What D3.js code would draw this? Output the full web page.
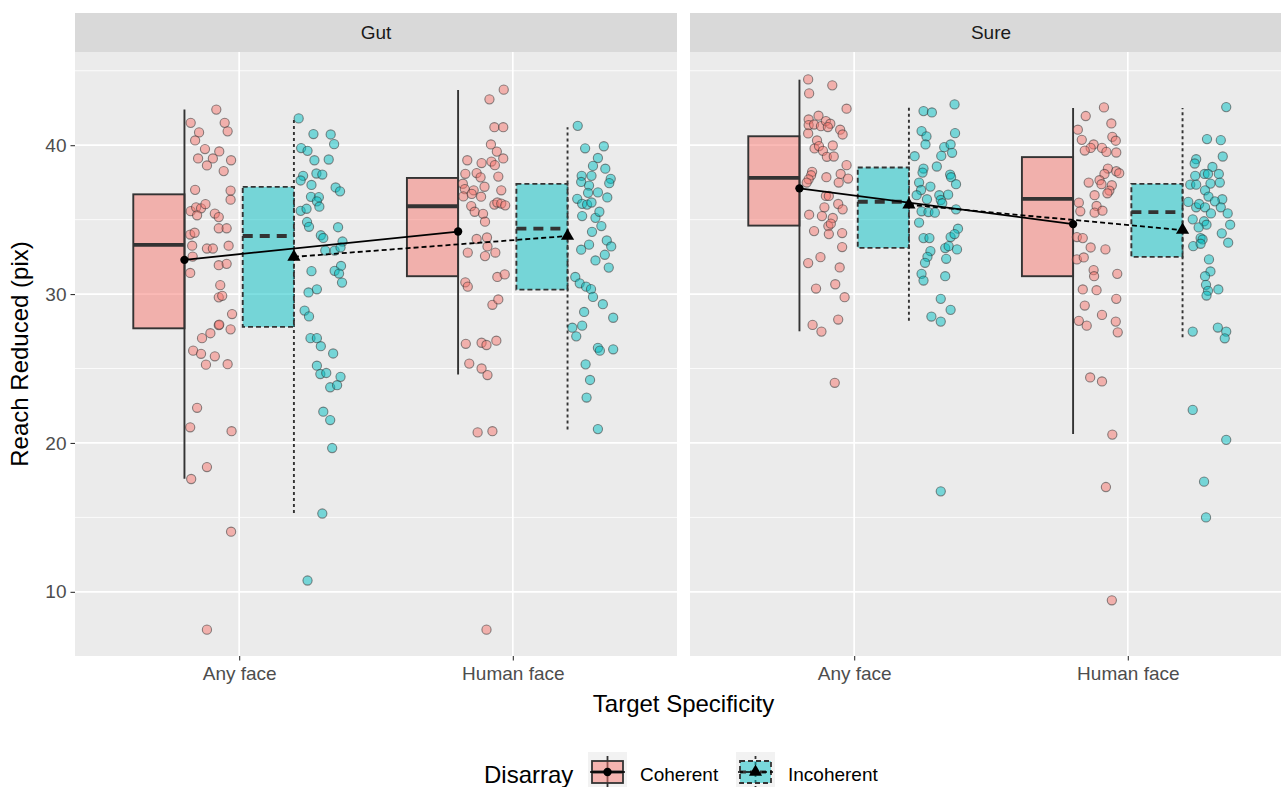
<!DOCTYPE html>
<html>
<head>
<meta charset="utf-8">
<script src="https://cdn.jsdelivr.net/npm/d3@7"></script>
<style>
  body { margin: 0; background: #fff; }
  svg { display: block; font-family: "Liberation Sans", Arial, sans-serif; }
</style>
</head>
<body>
<div id="root"></div>
<script>
// facets, x categories and fill groups
const panels = ['Gut', 'Sure'];
const categories = ['Any face', 'Human face'];
const groups = ['Coherent', 'Incoherent'];
const yTicks = [10, 20, 30, 40];
const yMinorTicks = [15, 25, 35, 45];

// box stats: panel, category, group, whisker low, q1, median, q3, whisker high, mean
const boxes = [
  ['Gut', 'Any face', 'Coherent', 17.6, 27.7, 33.3, 36.7, 42.4, 32.3],
  ['Gut', 'Any face', 'Incoherent', 15.3, 27.8, 33.9, 37.2, 41.8, 32.5],
  ['Gut', 'Human face', 'Coherent', 24.6, 31.2, 35.9, 37.8, 43.7, 34.2],
  ['Gut', 'Human face', 'Incoherent', 20.9, 30.3, 34.4, 37.4, 41.2, 33.9],
  ['Sure', 'Any face', 'Coherent', 27.5, 34.6, 37.8, 40.6, 44.4, 37.1],
  ['Sure', 'Any face', 'Incoherent', 28.2, 33.1, 36.2, 38.5, 42.7, 36.0],
  ['Sure', 'Human face', 'Coherent', 20.6, 31.2, 36.4, 39.2, 42.5, 34.7],
  ['Sure', 'Human face', 'Incoherent', 27.1, 32.5, 35.5, 37.4, 42.5, 34.3],
];

// raw observations: [jitter (0..1 across the point strip), value]
const gutAnyCoh = [
  [0.58, 42.39], [0.06, 41.5], [0.75, 41.5], [0.23, 40.86], [0.81, 40.93], [0.15, 40.32],
  [0.35, 39.74], [0.64, 39.58], [0.21, 39.11], [0.51, 39.11], [0.39, 38.64], [0.88, 38.99],
  [0.73, 38.26], [0.15, 37.0], [0.87, 36.95], [0.87, 36.34], [0.06, 35.57], [0.17, 35.83],
  [0.27, 35.76], [0.36, 36.04], [0.19, 35.29], [0.55, 35.41], [0.63, 35.17], [0.05, 34.0],
  [0.14, 34.12], [0.63, 34.42], [0.79, 34.42], [0.09, 33.25], [0.39, 33.06], [0.51, 33.06],
  [0.83, 33.25], [0.1, 32.52], [0.05, 31.42], [0.63, 31.94], [0.79, 32.03], [0.66, 30.6],
  [0.63, 29.78], [0.7, 29.88], [0.9, 28.66], [0.63, 27.91], [0.64, 27.95], [0.87, 27.63],
  [0.46, 27.37], [0.29, 27.04], [0.11, 26.2], [0.27, 25.99], [0.55, 25.82], [0.37, 25.26],
  [0.81, 25.29], [0.19, 22.36], [0.05, 21.05], [0.89, 20.79], [0.39, 18.38], [0.07, 17.58],
  [0.88, 14.04], [0.39, 7.46],
];
const gutAnyInc = [
  [0.03, 41.8], [0.33, 40.75], [0.68, 40.72], [0.75, 40.07], [0.08, 39.81], [0.21, 39.62],
  [0.35, 38.99], [0.64, 39.04], [0.39, 38.1], [0.51, 38.03], [0.12, 37.94], [0.07, 37.63],
  [0.29, 37.33], [0.78, 37.16], [0.87, 36.9], [0.28, 36.53], [0.44, 36.51], [0.4, 36.23],
  [0.45, 35.87], [0.07, 35.59], [0.19, 35.73], [0.2, 34.84], [0.24, 34.52], [0.83, 34.49],
  [0.48, 33.95], [0.53, 33.77], [0.92, 33.53], [0.57, 32.92], [0.76, 32.92], [0.88, 33.13],
  [0.89, 31.89], [0.76, 31.56], [0.85, 31.38], [0.29, 31.54], [0.91, 30.77], [0.4, 30.32],
  [0.23, 30.11], [0.15, 28.89], [0.24, 28.5], [0.27, 27.04], [0.4, 27.04], [0.48, 26.5],
  [0.73, 26.01], [0.4, 25.19], [0.47, 24.63], [0.59, 24.7], [0.88, 24.44], [0.67, 23.74],
  [0.81, 23.88], [0.53, 22.1], [0.67, 21.54], [0.71, 19.66], [0.51, 15.26], [0.21, 10.76],
];
const gutHumCoh = [
  [0.86, 43.73], [0.57, 43.08], [0.67, 41.21], [0.85, 41.21], [0.6, 40.05], [0.72, 39.57],
  [0.85, 39.11], [0.12, 38.99], [0.41, 38.8], [0.61, 38.9], [0.68, 38.66], [0.08, 38.08],
  [0.31, 38.13], [0.39, 37.84], [0.75, 37.89], [0.03, 37.41], [0.07, 37.05], [0.25, 36.97],
  [0.47, 37.21], [0.81, 36.97], [0.04, 36.56], [0.21, 36.73], [0.4, 36.54], [0.67, 36.01],
  [0.73, 36.15], [0.81, 36.08], [0.89, 35.96], [0.2, 35.91], [0.27, 35.53], [0.44, 35.39],
  [0.48, 34.86], [0.31, 33.7], [0.52, 33.8], [0.53, 33.2], [0.13, 32.79], [0.48, 32.55],
  [0.69, 32.79], [0.08, 30.79], [0.13, 30.5], [0.73, 31.15], [0.88, 31.32], [0.63, 29.28],
  [0.75, 29.64], [0.09, 26.66], [0.41, 26.73], [0.51, 26.58], [0.71, 26.87], [0.16, 25.33],
  [0.41, 25.0], [0.53, 24.56], [0.33, 20.71], [0.63, 20.79], [0.51, 7.46],
];
const gutHumInc = [
  [0.14, 41.3], [0.29, 39.79], [0.67, 39.93], [0.55, 39.14], [0.45, 38.61], [0.7, 38.42],
  [0.22, 37.94], [0.42, 37.94], [0.81, 37.74], [0.21, 37.53], [0.37, 37.29], [0.78, 37.45],
  [0.35, 36.8], [0.55, 36.83], [0.74, 36.49], [0.13, 36.4], [0.23, 36.06], [0.33, 36.01],
  [0.42, 36.15], [0.23, 35.24], [0.5, 35.12], [0.58, 35.53], [0.62, 34.57], [0.43, 34.18],
  [0.73, 33.6], [0.82, 33.2], [0.37, 33.32], [0.21, 32.98], [0.69, 32.64], [0.5, 32.26],
  [0.77, 31.78], [0.09, 31.15], [0.18, 30.72], [0.31, 30.5], [0.41, 30.33], [0.45, 29.81],
  [0.65, 29.32], [0.86, 28.41], [0.27, 28.8], [0.23, 27.88], [0.03, 27.74], [0.11, 27.16],
  [0.55, 26.39], [0.59, 26.2], [0.86, 26.29], [0.3, 25.28], [0.39, 24.23], [0.32, 23.05],
  [0.55, 20.93],
];
const sureAnyCoh = [
  [0.11, 44.42], [0.13, 43.48], [0.6, 44.02], [0.89, 42.45], [0.12, 41.73], [0.12, 41.35],
  [0.23, 41.39], [0.32, 41.98], [0.37, 41.28], [0.47, 41.62], [0.56, 41.44], [0.51, 41.22],
  [0.76, 41.04], [0.81, 40.72], [0.11, 40.79], [0.29, 40.32], [0.24, 39.78], [0.33, 39.94],
  [0.41, 39.62], [0.49, 39.22], [0.63, 39.24], [0.61, 39.98], [0.89, 38.66], [0.19, 38.21],
  [0.17, 37.98], [0.12, 37.71], [0.08, 37.49], [0.48, 37.85], [0.77, 38.07], [0.92, 37.76],
  [0.73, 37.49], [0.47, 36.59], [0.53, 36.59], [0.72, 36.05], [0.81, 35.69], [0.44, 35.83],
  [0.13, 35.33], [0.39, 35.24], [0.61, 35.11], [0.52, 34.57], [0.57, 34.73], [0.23, 34.23],
  [0.53, 34.03], [0.8, 34.1], [0.8, 33.16], [0.36, 32.48], [0.11, 32.08], [0.75, 31.79],
  [0.66, 30.66], [0.27, 30.37], [0.85, 29.79], [0.72, 28.29], [0.2, 27.93], [0.38, 27.48],
  [0.65, 24.04],
];
const sureAnyInc = [
  [0.23, 42.29], [0.4, 42.2], [0.86, 42.74], [0.19, 40.95], [0.29, 40.59], [0.27, 40.05],
  [0.87, 40.81], [0.65, 39.87], [0.78, 40.05], [0.81, 39.49], [0.59, 39.28], [0.05, 39.26],
  [0.5, 38.57], [0.23, 38.43], [0.21, 38.16], [0.77, 38.03], [0.79, 37.85], [0.14, 37.49],
  [0.37, 37.22], [0.89, 37.38], [0.18, 36.99], [0.09, 36.64], [0.3, 36.37], [0.55, 36.64],
  [0.73, 36.68], [0.58, 36.32], [0.61, 36.1], [0.19, 35.56], [0.33, 35.51], [0.46, 35.47],
  [0.89, 35.69], [0.14, 34.8], [0.23, 33.76], [0.35, 33.76], [0.93, 34.39], [0.78, 33.83],
  [0.86, 34.03], [0.67, 33.09], [0.74, 33.22], [0.91, 33.0], [0.37, 32.89], [0.31, 32.5],
  [0.26, 32.1], [0.69, 32.37], [0.19, 31.36], [0.23, 30.91], [0.67, 31.2], [0.58, 29.68],
  [0.78, 28.94], [0.39, 28.49], [0.58, 28.15], [0.58, 16.75],
];
const sureHumCoh = [
  [0.56, 42.54], [0.19, 41.96], [0.71, 41.46], [0.03, 41.04], [0.11, 40.36], [0.73, 40.56],
  [0.8, 40.3], [0.35, 40.05], [0.29, 39.82], [0.17, 39.64], [0.52, 39.82], [0.61, 39.55],
  [0.81, 39.51], [0.64, 38.43], [0.57, 38.07], [0.81, 38.25], [0.87, 38.12], [0.47, 37.65],
  [0.25, 37.49], [0.51, 37.38], [0.72, 37.31], [0.67, 36.95], [0.63, 36.77], [0.37, 36.64],
  [0.05, 36.14], [0.08, 35.56], [0.41, 35.92], [0.37, 35.47], [0.53, 35.6], [0.01, 33.83],
  [0.13, 33.76], [0.29, 33.13], [0.59, 33.0], [0.01, 32.33], [0.15, 32.46], [0.35, 31.61],
  [0.36, 31.2], [0.83, 31.36], [0.13, 30.31], [0.41, 30.26], [0.81, 29.68], [0.17, 29.23],
  [0.52, 28.6], [0.05, 28.2], [0.21, 27.88], [0.8, 28.15], [0.84, 27.43], [0.28, 24.4],
  [0.52, 24.13], [0.73, 20.56], [0.6, 17.04], [0.72, 9.43],
];
const sureHumInc = [
  [0.82, 42.56], [0.43, 40.41], [0.71, 40.34], [0.75, 39.24], [0.21, 39.06], [0.18, 38.77],
  [0.54, 38.54], [0.19, 37.94], [0.38, 38.07], [0.45, 38.07], [0.67, 38.07], [0.09, 37.35],
  [0.21, 37.35], [0.5, 37.42], [0.69, 37.49], [0.39, 36.97], [0.46, 36.55], [0.74, 36.37],
  [0.59, 36.23], [0.05, 36.19], [0.21, 35.83], [0.27, 36.05], [0.39, 35.83], [0.71, 35.83],
  [0.51, 35.42], [0.85, 35.42], [0.14, 35.02], [0.37, 34.89], [0.42, 34.66], [0.26, 34.48],
  [0.9, 34.66], [0.73, 34.08], [0.3, 33.76], [0.34, 33.67], [0.15, 33.22], [0.3, 33.38],
  [0.86, 33.45], [0.47, 32.33], [0.5, 31.52], [0.39, 31.2], [0.41, 30.62], [0.45, 30.22],
  [0.42, 29.9], [0.66, 30.31], [0.14, 27.48], [0.65, 27.75], [0.82, 27.48], [0.79, 27.03],
  [0.14, 22.22], [0.82, 20.21], [0.37, 17.4], [0.41, 15.0],
];

const observations = [
  ['Gut', 'Any face', 'Coherent', gutAnyCoh],
  ['Gut', 'Any face', 'Incoherent', gutAnyInc],
  ['Gut', 'Human face', 'Coherent', gutHumCoh],
  ['Gut', 'Human face', 'Incoherent', gutHumInc],
  ['Sure', 'Any face', 'Coherent', sureAnyCoh],
  ['Sure', 'Any face', 'Incoherent', sureAnyInc],
  ['Sure', 'Human face', 'Coherent', sureHumCoh],
  ['Sure', 'Human face', 'Incoherent', sureHumInc],
];

const width = 1281;
const height = 787;
const panelTop = 52;
const panelBottom = 656;
const stripTop = 13;
const panelRanges = [[75, 677], [690, 1292]];

const fillColor = d3.scaleOrdinal().domain(groups).range(['#F8766D', '#00BFC4']);
const dodge = { Coherent: -0.2, Incoherent: 0.2 };
const boxWidth = 0.187;
const isInc = g => g === 'Incoherent';

const svg = d3.select('#root')
  .append('svg')
  .attr('width', width)
  .attr('height', height);

const y = d3.scaleLinear().domain([5.69, 46.26]).range([panelBottom, panelTop]);

panels.forEach((panel, pi) => {
  const x = d3.scalePoint().domain(categories).range(panelRanges[pi]).padding(0.6);
  const step = x.step();
  const [x0, x1] = panelRanges[pi];
  const center = (cat, grp) => x(cat) + dodge[grp] * step;

  const g = svg.append('g').attr('class', 'panel');

  // background + grid
  g.append('rect')
    .attr('x', x0).attr('y', panelTop)
    .attr('width', x1 - x0).attr('height', panelBottom - panelTop)
    .attr('fill', '#EBEBEB');

  g.selectAll('line.minor')
    .data(yMinorTicks)
    .join('line')
    .attr('class', 'minor')
    .attr('x1', x0).attr('x2', x1)
    .attr('y1', d => y(d)).attr('y2', d => y(d))
    .attr('stroke', '#fff').attr('stroke-width', 0.8);

  g.selectAll('line.major')
    .data(yTicks)
    .join('line')
    .attr('class', 'major')
    .attr('x1', x0).attr('x2', x1)
    .attr('y1', d => y(d)).attr('y2', d => y(d))
    .attr('stroke', '#fff').attr('stroke-width', 1.7);

  g.selectAll('line.vmajor')
    .data(categories)
    .join('line')
    .attr('class', 'vmajor')
    .attr('x1', d => x(d)).attr('x2', d => x(d))
    .attr('y1', panelTop).attr('y2', panelBottom)
    .attr('stroke', '#fff').attr('stroke-width', 1.7);

  // strip
  svg.append('rect')
    .attr('x', x0).attr('y', stripTop)
    .attr('width', x1 - x0).attr('height', panelTop - stripTop)
    .attr('fill', '#D9D9D9');
  svg.append('text')
    .attr('x', (x0 + x1) / 2).attr('y', (stripTop + panelTop) / 2)
    .attr('dy', '0.35em')
    .attr('text-anchor', 'middle')
    .attr('font-size', 19)
    .attr('fill', '#1A1A1A')
    .text(panel);

  // half boxplots
  const panelBoxes = boxes.filter(b => b[0] === panel);
  panelBoxes.forEach(([, cat, grp, lo, q1, med, q3, hi]) => {
    const cx = center(cat, grp);
    const left = cx - boxWidth * step;
    g.append('line')
      .attr('x1', cx).attr('x2', cx)
      .attr('y1', y(lo)).attr('y2', y(hi))
      .attr('stroke', '#333').attr('stroke-width', 1.9)
      .attr('stroke-dasharray', isInc(grp) ? '3,3' : null);
    g.append('rect')
      .attr('x', left).attr('y', y(q3))
      .attr('width', cx - left).attr('height', y(q1) - y(q3))
      .attr('fill', fillColor(grp)).attr('fill-opacity', 0.5)
      .attr('stroke', '#333').attr('stroke-width', 1.9)
      .attr('stroke-dasharray', isInc(grp) ? '5,3' : null);
    g.append('line')
      .attr('x1', left).attr('x2', cx)
      .attr('y1', y(med)).attr('y2', y(med))
      .attr('stroke', '#333').attr('stroke-width', 3.8)
      .attr('stroke-dasharray', isInc(grp) ? '10,7' : null);
  });

  // jittered points
  observations.filter(o => o[0] === panel).forEach(([, cat, grp, pts]) => {
    const cx = center(cat, grp);
    g.selectAll(null)
      .data(pts)
      .join('circle')
      .attr('cx', ([j]) => cx + (0.012 + j * 0.18) * step)
      .attr('cy', ([, v]) => y(v))
      .attr('r', 4.6)
      .attr('fill', fillColor(grp)).attr('fill-opacity', 0.5)
      .attr('stroke', '#333').attr('stroke-opacity', 0.55).attr('stroke-width', 1.1);
  });

  // mean lines and markers
  groups.forEach(grp => {
    const means = panelBoxes.filter(b => b[2] === grp).map(b => [center(b[1], grp), y(b[8])]);
    g.append('path')
      .attr('d', d3.line()(means))
      .attr('fill', 'none')
      .attr('stroke', '#000').attr('stroke-width', 1.8)
      .attr('stroke-dasharray', isInc(grp) ? '5,3' : null);
    g.selectAll(null)
      .data(means)
      .join('path')
      .attr('transform', d => `translate(${d[0]},${d[1]})`)
      .attr('d', d3.symbol(isInc(grp) ? d3.symbolTriangle : d3.symbolCircle).size(isInc(grp) ? 75 : 55)())
      .attr('fill', '#000');
  });

  // x axis
  const xAxis = svg.append('g')
    .attr('transform', `translate(0,${panelBottom})`)
    .call(d3.axisBottom(x).tickSize(4.5).tickPadding(6));
  xAxis.select('.domain').remove();
  xAxis.selectAll('line').attr('stroke', '#333').attr('stroke-width', 1.1);
  xAxis.selectAll('text')
    .attr('fill', '#4D4D4D')
    .attr('font-size', 19)
    .attr('font-family', '"Liberation Sans", Arial, sans-serif');

  if (pi === 0) {
    const yAxis = svg.append('g')
      .attr('transform', `translate(${x0},0)`)
      .call(d3.axisLeft(y).tickValues(yTicks).tickSize(4.5).tickPadding(4));
    yAxis.select('.domain').remove();
    yAxis.selectAll('line').attr('stroke', '#333').attr('stroke-width', 1.1);
    yAxis.selectAll('text')
      .attr('fill', '#4D4D4D')
      .attr('font-size', 19)
      .attr('font-family', '"Liberation Sans", Arial, sans-serif');
  }
});

// axis titles
svg.append('text')
  .attr('transform', `translate(28,${(panelTop + panelBottom) / 2}) rotate(-90)`)
  .attr('text-anchor', 'middle')
  .attr('font-size', 24)
  .attr('fill', '#000')
  .text('Reach Reduced (pix)');

svg.append('text')
  .attr('x', (panelRanges[0][0] + panelRanges[1][1]) / 2)
  .attr('y', 712)
  .attr('text-anchor', 'middle')
  .attr('font-size', 24)
  .attr('fill', '#000')
  .text('Target Specificity');

// legend
const legend = svg.append('g');
legend.append('text')
  .attr('x', 484).attr('y', 783)
  .attr('font-size', 24)
  .attr('fill', '#000')
  .text('Disarray');

const legendX = { Coherent: 588, Incoherent: 736 };
groups.forEach(grp => {
  const lx = legendX[grp];
  const key = legend.append('g').attr('transform', `translate(${lx},752)`);
  const kw = 39;
  const mid = kw / 2;
  key.append('rect').attr('width', kw).attr('height', 40).attr('fill', '#F2F2F2');
  key.append('line')
    .attr('x1', mid).attr('x2', mid).attr('y1', 4).attr('y2', 40)
    .attr('stroke', '#333').attr('stroke-width', 1.8)
    .attr('stroke-dasharray', isInc(grp) ? '3,3' : null);
  key.append('rect')
    .attr('x', 4).attr('y', 9).attr('width', kw - 8).attr('height', 22)
    .attr('fill', fillColor(grp)).attr('fill-opacity', 0.5)
    .attr('stroke', '#333').attr('stroke-width', 1.8)
    .attr('stroke-dasharray', isInc(grp) ? '5,3' : null);
  key.append('line')
    .attr('x1', 4).attr('x2', kw - 4).attr('y1', 20).attr('y2', 20)
    .attr('stroke', '#333').attr('stroke-width', 3)
    .attr('stroke-dasharray', isInc(grp) ? '6,4' : null);
  key.append('line')
    .attr('x1', 2).attr('x2', kw - 2).attr('y1', 20).attr('y2', 20)
    .attr('stroke', '#000').attr('stroke-width', 1.5)
    .attr('stroke-dasharray', isInc(grp) ? '5,3' : null);
  key.append('path')
    .attr('transform', `translate(${mid},20)`)
    .attr('d', d3.symbol(isInc(grp) ? d3.symbolTriangle : d3.symbolCircle).size(isInc(grp) ? 75 : 55)())
    .attr('fill', '#000');
  legend.append('text')
    .attr('x', lx + kw + 13).attr('y', 781)
    .attr('font-size', 19)
    .attr('fill', '#000')
    .text(grp);
});
</script>
</body>
</html>
